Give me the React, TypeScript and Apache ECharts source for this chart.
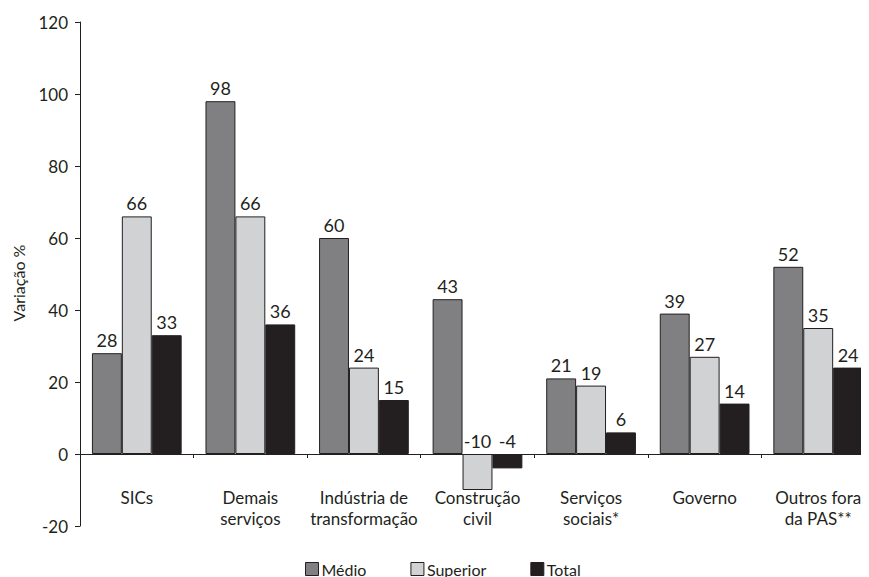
import React, { useEffect, useRef } from "react";
import * as echarts from "echarts";

const categories = [
  "SICs",
  "Demais\nserviços",
  "Indústria de\ntransformação",
  "Construção\ncivil",
  "Serviços\nsociais*",
  "Governo",
  "Outros fora\nda PAS**",
];
const medio = [28, 98, 60, 43, 21, 39, 52];
const superior = [66, 66, 24, -10, 19, 27, 35];
const total = [33, 36, 15, -4, 6, 14, 24];
const seriesNames = ["Médio", "Superior", "Total"];
const yAxisTitle = "Variação %";

const FONT = "Lato";
const INK = "#231f20";

export default function App() {
  const ref = useRef<HTMLDivElement>(null);
  useEffect(() => {
    if (!ref.current) return;
    const chart = echarts.init(ref.current, undefined, { renderer: "svg" });
    const label = {
      show: true,
      position: "top",
      distance: 4,
      color: INK,
      fontFamily: FONT,
      fontSize: 18,
    };
    const mk = (name: string, data: number[], color: string) => ({
      name,
      type: "bar",
      data,
      barGap: "0%",
      barCategoryGap: "21%",
      itemStyle: { color, borderColor: INK, borderWidth: 1 },
      label,
    });
    chart.setOption({
      animation: false,
      textStyle: { fontFamily: FONT },
      grid: {
        left: 80,
        top: 22,
        width: 795,
        height: 504,
        containLabel: false,
        outerBoundsMode: "none",
      },
      legend: {
        top: 561,
        left: 305,
        padding: 0,
        itemWidth: 13,
        itemHeight: 13,
        itemGap: 44,
        icon: "rect",
        textStyle: { fontFamily: FONT, fontSize: 16, color: INK, padding: [0, 0, 0, -2] },
        itemStyle: { borderColor: INK, borderWidth: 1 },
        data: seriesNames,
      },
      xAxis: {
        type: "category",
        data: categories,
        axisLine: { onZero: true, lineStyle: { color: INK, width: 1 } },
        axisTick: { show: true, length: 4, lineStyle: { color: INK } },
        axisLabel: {
          color: INK,
          fontFamily: FONT,
          fontSize: 17,
          lineHeight: 21,
          margin: -39,
          interval: 0,
        },
      },
      yAxis: {
        type: "value",
        min: -20,
        max: 120,
        interval: 20,
        splitLine: { show: false },
        axisLine: { show: true, lineStyle: { color: INK, width: 1 } },
        axisTick: { show: true, length: 5, lineStyle: { color: INK } },
        axisLabel: { color: INK, fontFamily: FONT, fontSize: 17, margin: 12 },
      },
      graphic: [
        {
          type: "text",
          x: 18,
          y: 283,
          rotation: Math.PI / 2,
          style: {
            text: yAxisTitle,
            fill: INK,
            font: `16px ${FONT}`,
            textAlign: "center",
            textVerticalAlign: "middle",
          },
        },
      ],
      series: [
        mk(seriesNames[0], medio, "#808083"),
        mk(seriesNames[1], superior, "#d1d2d4"),
        mk(seriesNames[2], total, INK),
      ],
    });
    return () => chart.dispose();
  }, []);
  return <div ref={ref} style={{ width: 869, height: 577, marginLeft: -8, marginTop: -8 }} />;
}
